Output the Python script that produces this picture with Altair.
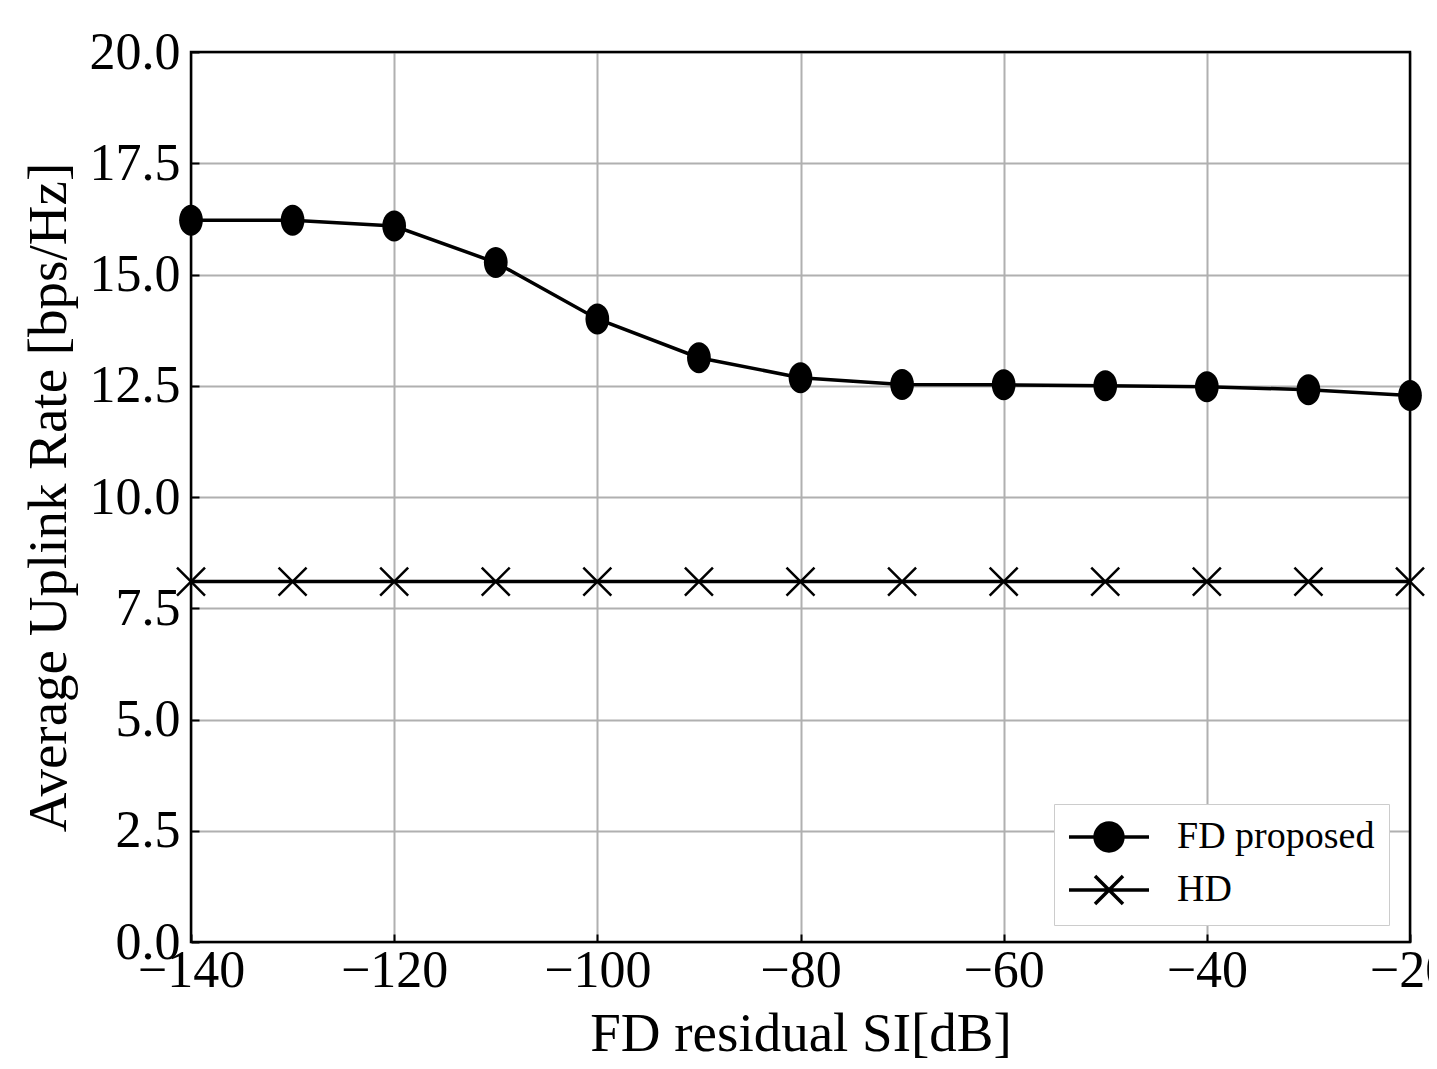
import altair as alt
import pandas as pd

# ---- data ----
si_db = [-140, -130, -120, -110, -100, -90, -80, -70, -60, -50, -40, -30, -20]
fd_proposed = [16.22, 16.22, 16.09, 15.27, 14.00, 13.13, 12.68, 12.53, 12.52, 12.50, 12.48, 12.41, 12.28]
hd = [8.10] * len(si_db)
series_names = ["FD proposed", "HD"]
x_ticks = [-140, -120, -100, -80, -60, -40, -20]
y_ticks = [0, 2.5, 5, 7.5, 10, 12.5, 15, 17.5, 20]
x_domain = [-140, -20]
y_domain = [0, 20]

rows = []
for x, v in zip(si_db, fd_proposed):
    rows.append({"si": x, "rate": v, "series": "FD proposed"})
for x, v in zip(si_db, hd):
    rows.append({"si": x, "rate": v, "series": "HD"})
df = pd.DataFrame(rows)
frame_df = pd.DataFrame([{"x0": x_domain[0], "x1": x_domain[1], "y0": y_domain[0], "y1": y_domain[1]}])

FONT = "Liberation Serif"

ELLIPSE = "M -0.767,0 A 0.767,1 0 1,0 0.767,0 A 0.767,1 0 1,0 -0.767,0 Z"
CROSS = "M -0.933,-0.933 L 0.933,0.933 M -0.933,0.933 L 0.933,-0.933"
LEG_FD = "M -2.667,0 L 2.667,0 M -0.93,0 A 0.93,0.93 0 1,0 0.93,0 A 0.93,0.93 0 1,0 -0.93,0 Z"
LEG_HD = "M -2.667,0 L 2.667,0 M -0.933,-0.933 L 0.933,0.933 M -0.933,0.933 L 0.933,-0.933"

x_enc = alt.X(
    "si:Q",
    scale=alt.Scale(domain=x_domain, nice=False, zero=False),
    axis=alt.Axis(
        title="FD residual SI[dB]",
        values=x_ticks,
        offset=-8,
        tickSize=8,
        tickWidth=2,
        tickColor="black",
        domain=False,
        labelPadding=3,
        labelFont=FONT,
        labelFontSize=52,
        labelColor="black",
        titleFont=FONT,
        titleFontSize=55,
        titleFontWeight="normal",
        titleColor="black",
        titlePadding=11,
        grid=True,
        gridColor="#b0b0b0",
        gridWidth=2,
        labelFlush=False,
        labelOverlap=False,
    ),
)
y_enc = alt.Y(
    "rate:Q",
    scale=alt.Scale(domain=y_domain, nice=False, zero=False),
    axis=alt.Axis(
        title="Average Uplink Rate [bps/Hz]",
        values=y_ticks,
        format=".1f",
        offset=-8,
        tickSize=8,
        tickWidth=2,
        tickColor="black",
        domain=False,
        labelPadding=11,
        labelFont=FONT,
        labelFontSize=52,
        labelColor="black",
        titleFont=FONT,
        titleFontSize=55,
        titleFontWeight="normal",
        titleColor="black",
        titlePadding=12,
        grid=True,
        gridColor="#b0b0b0",
        gridWidth=2,
        labelFlush=False,
        labelOverlap=False,
    ),
)

base = alt.Chart(df)

lines = base.mark_line(color="black", strokeWidth=3.5, clip=True).encode(
    x=x_enc, y=y_enc, detail="series:N"
)

frame = alt.Chart(frame_df).mark_rect(fill=None, stroke="black", strokeWidth=2.5).encode(
    x="x0:Q", x2="x1:Q", y="y0:Q", y2="y1:Q"
)

fd_pts = base.transform_filter(alt.datum.series == "FD proposed").mark_point(
    shape=ELLIPSE, filled=True, size=960, color="black", opacity=1, clip=False
).encode(x="si:Q", y="rate:Q")

hd_pts = base.transform_filter(alt.datum.series == "HD").mark_point(
    shape=CROSS, filled=False, size=900, color="black", strokeWidth=2.5, opacity=1, clip=False
).encode(x="si:Q", y="rate:Q")

# legend-only layer: no rows drawn, legend entries come from the shape scale domain
legend_layer = base.transform_filter("false").mark_point(
    filled=False, opacity=1, size=900, strokeWidth=3.5, color="black"
).encode(
    x="si:Q",
    y="rate:Q",
    fill=alt.value("black"),
    shape=alt.Shape(
        "series:N",
        scale=alt.Scale(domain=series_names, range=[LEG_FD, LEG_HD]),
        legend=alt.Legend(
            title=None,
            orient="none",
            legendX=863,
            legendY=752,
            symbolSize=900,
            symbolOffset=22,
            symbolStrokeWidth=3.5,
            labelFont=FONT,
            labelFontSize=38,
            labelColor="black",
            labelOffset=49,
            labelLimit=500,
            rowPadding=11,
            padding=14,
            strokeColor="#cccccc",
            fillColor="white",
        ),
    ),
)

chart = (
    alt.layer(lines, frame, fd_pts, hd_pts, legend_layer)
    .properties(
        width=1219,
        height=890,
        autosize=alt.AutoSizeParams(type="none"),
        padding={"left": 183, "top": 44, "right": 19, "bottom": 125},
    )
    .configure_view(stroke=None)
    .configure_legend(strokeWidth=2, cornerRadius=8)
    .configure(background="white")
)

chart.save("out.html", embed_options={"renderer": "svg", "actions": False})
